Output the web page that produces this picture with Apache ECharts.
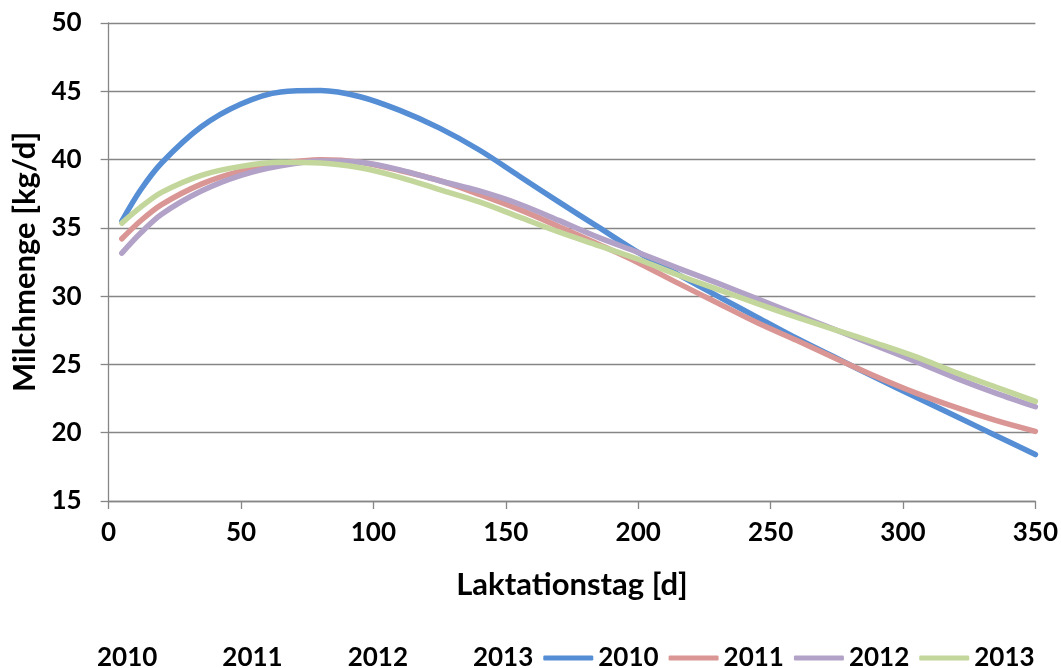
<!DOCTYPE html>
<html>
<head>
<meta charset="utf-8">
<script src="https://cdn.jsdelivr.net/npm/echarts@6/dist/echarts.min.js"></script>
<style>
  html, body { margin: 0; padding: 0; background: #ffffff; }
  #chart { width: 1061px; height: 668px; }
</style>
</head>
<body>
<div id="chart"></div>
<script>
// Laktationstage (x) at which the fitted lactation curves are sampled
const days = [5, 12, 20, 35, 50, 65, 80, 95, 110, 125, 140, 155, 170, 185, 200, 215, 230, 245, 260, 275, 290, 305, 320, 335, 350];

// Milchmenge [kg/d] per Jahr
const milk2010 = [35.5, 37.75, 39.75, 42.4, 44.07, 44.95, 45.05, 44.6, 43.6, 42.3, 40.7, 38.8, 36.9, 35.05, 33.2, 31.6, 30.0, 28.45, 26.9, 25.45, 24.0, 22.6, 21.2, 19.8, 18.4];
const milk2011 = [34.2, 35.5, 36.7, 38.2, 39.15, 39.7, 39.98, 39.8, 39.2, 38.45, 37.45, 36.35, 35.1, 33.8, 32.45, 30.95, 29.5, 28.05, 26.75, 25.4, 24.1, 22.9, 21.85, 20.9, 20.1];
const milk2012 = [33.15, 34.6, 36.0, 37.7, 38.85, 39.55, 39.9, 39.8, 39.25, 38.45, 37.7, 36.75, 35.55, 34.3, 33.2, 32.05, 30.95, 29.8, 28.65, 27.5, 26.35, 25.2, 24.0, 22.9, 21.9];
const milk2013 = [35.35, 36.5, 37.6, 38.85, 39.5, 39.8, 39.75, 39.4, 38.7, 37.8, 36.9, 35.8, 34.7, 33.7, 32.7, 31.55, 30.5, 29.45, 28.45, 27.5, 26.55, 25.55, 24.4, 23.35, 22.3];

const years = ['2010', '2011', '2012', '2013'];
const curves = [milk2010, milk2011, milk2012, milk2013];
const colors = ['#558ED5', '#D99694', '#B3A2C7', '#C3D69B'];

// Axis ranges and tick spacing
const xMin = 0, xMax = 350, xStep = 50;
const yMin = 15, yMax = 50, yStep = 5;

const FONT = 'Lato, "Open Sans", sans-serif';
const GRID_GRAY = '#868686';

// Measurement series without visible marks (listed in the legend as text only)
const markerSeries = years.map(y => ({
  name: 'Messwerte ' + y,
  type: 'line',
  data: [],
  showSymbol: false,
  lineStyle: { opacity: 0 }
}));

const curveSeries = years.map((y, i) => ({
  name: y,
  type: 'line',
  data: days.map((d, k) => [d, curves[i][k]]),
  smooth: 0.33,
  showSymbol: false,
  symbol: 'none',
  lineStyle: { color: colors[i], width: 5.5, cap: 'round', join: 'round' },
  itemStyle: { color: colors[i] },
  emphasis: { disabled: true }
}));

const legendData = markerSeries.map(s => ({
  name: s.name,
  itemStyle: { opacity: 0 },
  lineStyle: { opacity: 0 }
})).concat(curveSeries.map(s => ({ name: s.name })));

const chart = echarts.init(document.getElementById('chart'), null, { renderer: 'canvas' });

chart.setOption({
  animation: false,
  backgroundColor: '#ffffff',
  grid: { left: 108.6, right: 22, top: 23, bottom: 167, containLabel: false },
  legend: {
    data: legendData,
    top: 645,
    left: 42,
    padding: 0,
    icon: 'roundRect',
    itemWidth: 50,
    itemHeight: 5,
    itemGap: 10,
    selectedMode: false,
    formatter: name => name.slice(-4),
    textStyle: { fontFamily: FONT, fontWeight: 'bold', fontSize: 26, color: '#000000', lineHeight: 26 }
  },
  xAxis: {
    type: 'value',
    min: xMin, max: xMax, interval: xStep,
    name: 'Laktationstag [d]',
    nameLocation: 'middle',
    nameGap: 68,
    nameTextStyle: { fontFamily: FONT, fontWeight: 'bold', fontSize: 31, color: '#000000' },
    axisLine: { show: true, lineStyle: { color: GRID_GRAY, width: 1.3 } },
    axisTick: { show: true, inside: false, length: 8, lineStyle: { color: GRID_GRAY, width: 1.3 } },
    splitLine: { show: false },
    axisLabel: { margin: 19, fontFamily: FONT, fontWeight: 'bold', fontSize: 26, color: '#000000' }
  },
  yAxis: {
    type: 'value',
    min: yMin, max: yMax, interval: yStep,
    name: 'Milchmenge [kg/d]',
    nameLocation: 'middle',
    nameGap: 61,
    nameTextStyle: { fontFamily: FONT, fontWeight: 'bold', fontSize: 31, color: '#000000' },
    axisLine: { show: true, lineStyle: { color: GRID_GRAY, width: 1.3 } },
    axisTick: { show: true, inside: false, length: 8, lineStyle: { color: GRID_GRAY, width: 1.3 } },
    splitLine: { show: true, lineStyle: { color: GRID_GRAY, width: 1.3 } },
    axisLabel: { margin: 27, fontFamily: FONT, fontWeight: 'bold', fontSize: 26, color: '#000000' }
  },
  series: markerSeries.concat(curveSeries)
});
</script>
</body>
</html>
